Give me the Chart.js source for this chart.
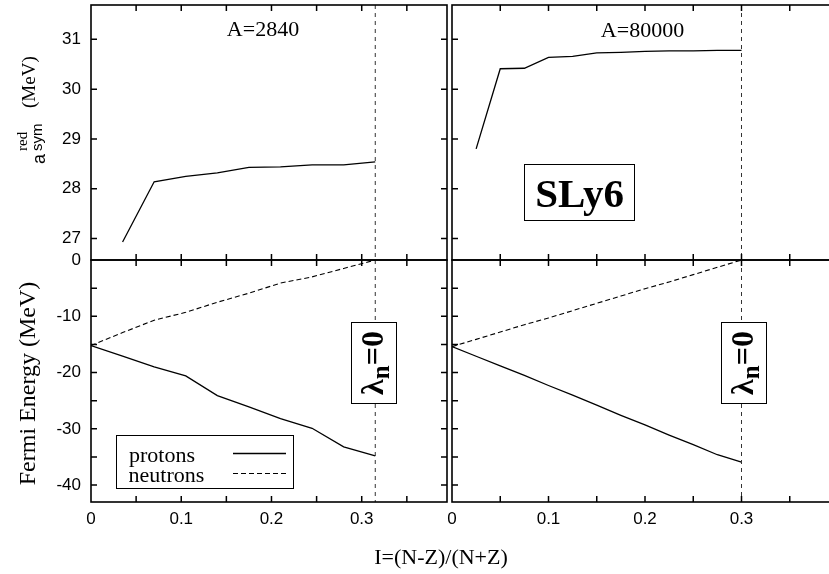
<!DOCTYPE html>
<html><head><meta charset="utf-8">
<script src="https://cdn.jsdelivr.net/npm/chart.js@4/dist/chart.umd.min.js"></script>
<style>
html,body{margin:0;padding:0;background:#fff;overflow:hidden;width:829px;height:574px;position:relative}
canvas{position:absolute}
</style></head><body>
<canvas id="tl" width="449" height="262" style="left:0px;top:0px"></canvas>
<canvas id="tr" width="400" height="262" style="left:440px;top:0px"></canvas>
<canvas id="bl" width="829" height="334" style="left:0px;top:240px"></canvas>
<canvas id="br" width="400" height="334" style="left:440px;top:240px"></canvas>
<script>
// ---------------- data ----------------
// A = 2840 (left panels)
const isoLeft      = [0, 0.035, 0.07, 0.105, 0.14, 0.175, 0.21, 0.245, 0.28, 0.315];
const asymLeft     = [null, 26.93, 28.14, 28.25, 28.32, 28.43, 28.44, 28.48, 28.48, 28.54];
const protonsLeft  = [-15.2, -17.1, -19.0, -20.6, -24.1, -26.1, -28.2, -29.9, -33.2, -34.8];
const neutronsLeft = [-15.2, -12.9, -10.7, -9.3, -7.5, -5.9, -4.1, -3.0, -1.5, 0.0];
// A = 80000 (right panels)
const isoRight      = [0, 0.025, 0.05, 0.075, 0.1, 0.125, 0.15, 0.175, 0.2, 0.225, 0.25, 0.275, 0.3];
const asymRight     = [null, 28.80, 30.41, 30.42, 30.64, 30.66, 30.73, 30.74, 30.76, 30.77, 30.77, 30.78, 30.78];
const protonsRight  = [-15.4, -17.1, -18.8, -20.5, -22.3, -24.0, -25.8, -27.6, -29.3, -31.1, -32.8, -34.6, -35.9];
const neutronsRight = [-15.4, -14.1, -12.8, -11.5, -10.3, -9.0, -7.7, -6.4, -5.1, -3.9, -2.6, -1.3, 0.0];
// I where neutron Fermi energy reaches zero
const lambdaZeroLeft = 0.315;
const lambdaZeroRight = 0.3;
// tick labels
const xTickLabels = ['0', '0.1', '0.2', '0.3'];
const asymTicks = [27, 28, 29, 30, 31];
const fermiTickLabels = ['-40', '-30', '-20', '-10', '0'];

// ---------------- helpers ----------------
const SANS = "'Liberation Sans', Arial, sans-serif";
const SERIF = "'Liberation Serif', 'Times New Roman', serif";

function pts(xs, ys) {
  return xs.map((x, i) => ({x: x, y: ys[i]})).filter(p => p.y !== null);
}
function xLabel(v) {
  const k = Math.round(v * 10);
  if (Math.abs(v * 10 - k) > 1e-6) return '';
  return xTickLabels[k] !== undefined ? xTickLabels[k] : '';
}
function yLabelAsym(v) { return asymTicks.includes(v) ? String(v) : ''; }
function yLabelFermi(v) { const s = String(v); return fermiTickLabels.includes(s) ? s : ''; }
function noPad(s) { s.paddingTop = 0; s.paddingBottom = 0; s.paddingLeft = 0; s.paddingRight = 0; }

function decoPlugin(cfg, off) {
  return {
    id: 'deco',
    afterDatasetsDraw(chart) {
      const ctx = chart.ctx;
      const a = chart.chartArea;
      const xs = chart.scales.x, ys = chart.scales.y;
      // dashed lambda_n = 0 line
      ctx.save();
      const px = xs.getPixelForValue(cfg.vline);
      ctx.strokeStyle = '#333'; ctx.lineWidth = 1; ctx.setLineDash([4, 4]);
      ctx.beginPath(); ctx.moveTo(px, a.top); ctx.lineTo(px, a.bottom); ctx.stroke();
      ctx.restore();
      // annotations in page coordinates
      ctx.save();
      ctx.translate(-off.x, -off.y);
      cfg.draw(ctx, chart);
      ctx.restore();
      // frame + inward ticks on all sides
      ctx.save();
      ctx.strokeStyle = '#000'; ctx.lineWidth = 1.5; ctx.setLineDash([]);
      const L = 6;
      ctx.beginPath();
      xs.ticks.forEach(t => {
        const p = xs.getPixelForValue(t.value);
        if (p < a.left + 1 || p > a.right - 1) return;
        ctx.moveTo(p, a.bottom); ctx.lineTo(p, a.bottom - L);
        ctx.moveTo(p, a.top); ctx.lineTo(p, a.top + L);
      });
      ys.ticks.forEach(t => {
        const p = ys.getPixelForValue(t.value);
        if (p < a.top + 1 || p > a.bottom - 1) return;
        ctx.moveTo(a.left, p); ctx.lineTo(a.left + L, p);
        ctx.moveTo(a.right, p); ctx.lineTo(a.right - L, p);
      });
      ctx.stroke();
      ctx.lineWidth = 1.6;
      ctx.strokeRect(a.left, a.top, a.right - a.left, a.bottom - a.top);
      ctx.restore();
    }
  };
}

function panel(id, cfg) {
  const c = document.getElementById(id);
  const off = {x: parseFloat(c.style.left) || 0, y: parseFloat(c.style.top) || 0};
  return new Chart(c, {
    type: 'line',
    data: {datasets: cfg.datasets},
    options: {
      responsive: false, animation: false, devicePixelRatio: 1,
      layout: {padding: cfg.padding, autoPadding: false},
      plugins: {legend: {display: false}, tooltip: {enabled: false}},
      elements: {point: {radius: 0}, line: {tension: 0, borderWidth: 1.3, borderColor: '#000'}},
      scales: {
        x: {
          type: 'linear', min: 0, max: cfg.xMax,
          ticks: {stepSize: 0.05, includeBounds: false, autoSkip: false, maxRotation: 0,
                  display: cfg.xLabels, font: {family: SANS, size: 17}, color: '#000', padding: 7,
                  callback: xLabel},
          grid: {display: false, drawTicks: false}, border: {display: false},
          afterFit: s => { s.height = cfg.xHeight; noPad(s); }
        },
        y: {
          type: 'linear', min: cfg.yMin, max: cfg.yMax,
          ticks: {stepSize: cfg.yStep, includeBounds: false, autoSkip: false,
                  display: cfg.yLabels, font: {family: SANS, size: 17}, color: '#000', padding: 10,
                  callback: cfg.yCallback},
          grid: {display: false, drawTicks: false}, border: {display: false},
          afterFit: s => { s.width = cfg.yWidth; noPad(s); }
        }
      }
    },
    plugins: [decoPlugin(cfg, off)]
  });
}

function lambdaBox(ctx, x, y, w, h) {
  ctx.fillStyle = '#fff'; ctx.fillRect(x, y, w, h);
  ctx.strokeStyle = '#000'; ctx.lineWidth = 1; ctx.setLineDash([]);
  ctx.strokeRect(x, y, w, h);
  ctx.save();
  ctx.translate(x + 31.5, y + h / 2);
  ctx.rotate(-Math.PI / 2);
  const big = 'bold 32px ' + SERIF, small = 'bold 25px ' + SERIF;
  ctx.font = big; const wl = ctx.measureText('λ').width, we = ctx.measureText('=0').width;
  ctx.font = small; const wn = ctx.measureText('n').width;
  let u = -(wl + wn + we) / 2;
  ctx.fillStyle = '#000'; ctx.textAlign = 'left'; ctx.textBaseline = 'alphabetic';
  ctx.font = big; ctx.fillText('λ', u, 0); u += wl;
  ctx.font = small; ctx.fillText('n', u, 6); u += wn;
  ctx.font = big; ctx.fillText('=0', u, 0);
  ctx.restore();
}

// ---------------- panels ----------------
panel('tl', {
  datasets: [{label: 'a_sym', data: pts(isoLeft, asymLeft)}],
  padding: {left: 0, top: 5, right: 2, bottom: 2},
  xMax: 0.3945, xLabels: false, xHeight: 0,
  yMin: 26.57, yMax: 31.69, yStep: 1, yLabels: true, yWidth: 91, yCallback: yLabelAsym,
  vline: lambdaZeroLeft,
  draw(ctx) {
    ctx.fillStyle = '#000'; ctx.textAlign = 'center'; ctx.textBaseline = 'alphabetic';
    ctx.font = '22px ' + SERIF;
    ctx.fillText('A=2840', 263, 36);
    // y axis title: a^red_sym (MeV)
    ctx.save();
    ctx.rotate(-Math.PI / 2);
    ctx.textAlign = 'left';
    ctx.font = '18px ' + SANS; ctx.fillText('a', -164, 45);
    ctx.font = '15px ' + SERIF; ctx.fillText('red', -151, 27);
    ctx.font = '15px ' + SANS; ctx.fillText('sym', -151, 42);
    ctx.font = '19px ' + SERIF; ctx.fillText('(MeV)', -108, 35);
    ctx.restore();
  }
});

panel('tr', {
  datasets: [{label: 'a_sym', data: pts(isoRight, asymRight)}],
  padding: {left: 12, top: 5, right: 2, bottom: 2},
  xMax: 0.4, xLabels: false, xHeight: 0,
  yMin: 26.57, yMax: 31.69, yStep: 1, yLabels: false, yWidth: 0, yCallback: yLabelAsym,
  vline: lambdaZeroRight,
  draw(ctx) {
    ctx.fillStyle = '#000'; ctx.textAlign = 'center'; ctx.textBaseline = 'alphabetic';
    ctx.font = '22px ' + SERIF;
    ctx.fillText('A=80000', 642.5, 37);
    ctx.fillStyle = '#fff'; ctx.fillRect(524.5, 164.5, 110, 56);
    ctx.strokeStyle = '#000'; ctx.lineWidth = 1; ctx.strokeRect(524.5, 164.5, 110, 56);
    ctx.fillStyle = '#000';
    ctx.font = 'bold 41px ' + SERIF;
    ctx.fillText('SLy6', 579.6, 206.5);
  }
});

panel('bl', {
  datasets: [
    {label: 'protons', data: pts(isoLeft, protonsLeft)},
    {label: 'neutrons', data: pts(isoLeft, neutronsLeft), borderDash: [5, 3], borderWidth: 1.1}
  ],
  padding: {left: 0, top: 20, right: 382, bottom: 0},
  xMax: 0.3945, xLabels: true, xHeight: 72,
  yMin: -43, yMax: 0, yStep: 5, yLabels: true, yWidth: 91, yCallback: yLabelFermi,
  vline: lambdaZeroLeft,
  draw(ctx, chart) {
    lambdaBox(ctx, 351.5, 322.5, 45, 81);
    // legend
    ctx.fillStyle = '#fff'; ctx.fillRect(116.5, 435.5, 177, 53);
    ctx.strokeStyle = '#000'; ctx.lineWidth = 1; ctx.setLineDash([]);
    ctx.strokeRect(116.5, 435.5, 177, 53);
    const ds = chart.data.datasets;
    ctx.font = '22px ' + SERIF; ctx.textAlign = 'left'; ctx.textBaseline = 'alphabetic';
    ctx.fillStyle = '#000';
    [[ds[0], 129, 461.5, 453.5], [ds[1], 128.5, 481.5, 473.5]].forEach(([d, tx, ty, ly]) => {
      ctx.fillText(d.label, tx, ty);
      ctx.save();
      ctx.lineWidth = d.borderWidth || 1.3;
      ctx.setLineDash(d.borderDash || []);
      ctx.beginPath(); ctx.moveTo(233, ly); ctx.lineTo(286, ly); ctx.stroke();
      ctx.restore();
    });
    // y title
    ctx.save();
    ctx.translate(35, 383.5); ctx.rotate(-Math.PI / 2);
    ctx.textAlign = 'center'; ctx.font = '24px ' + SERIF;
    ctx.fillText('Fermi Energy (MeV)', 0, 0);
    ctx.restore();
    // x title
    ctx.textAlign = 'center'; ctx.font = '22px ' + SERIF;
    ctx.fillText('I=(N-Z)/(N+Z)', 441, 564);
  }
});

panel('br', {
  datasets: [
    {label: 'protons', data: pts(isoRight, protonsRight)},
    {label: 'neutrons', data: pts(isoRight, neutronsRight), borderDash: [5, 3], borderWidth: 1.1}
  ],
  padding: {left: 12, top: 20, right: 2, bottom: 0},
  xMax: 0.4, xLabels: true, xHeight: 72,
  yMin: -43, yMax: 0, yStep: 5, yLabels: false, yWidth: 0, yCallback: yLabelFermi,
  vline: lambdaZeroRight,
  draw(ctx) {
    lambdaBox(ctx, 721.5, 322.5, 45, 81);
  }
});
</script>
</body></html>
